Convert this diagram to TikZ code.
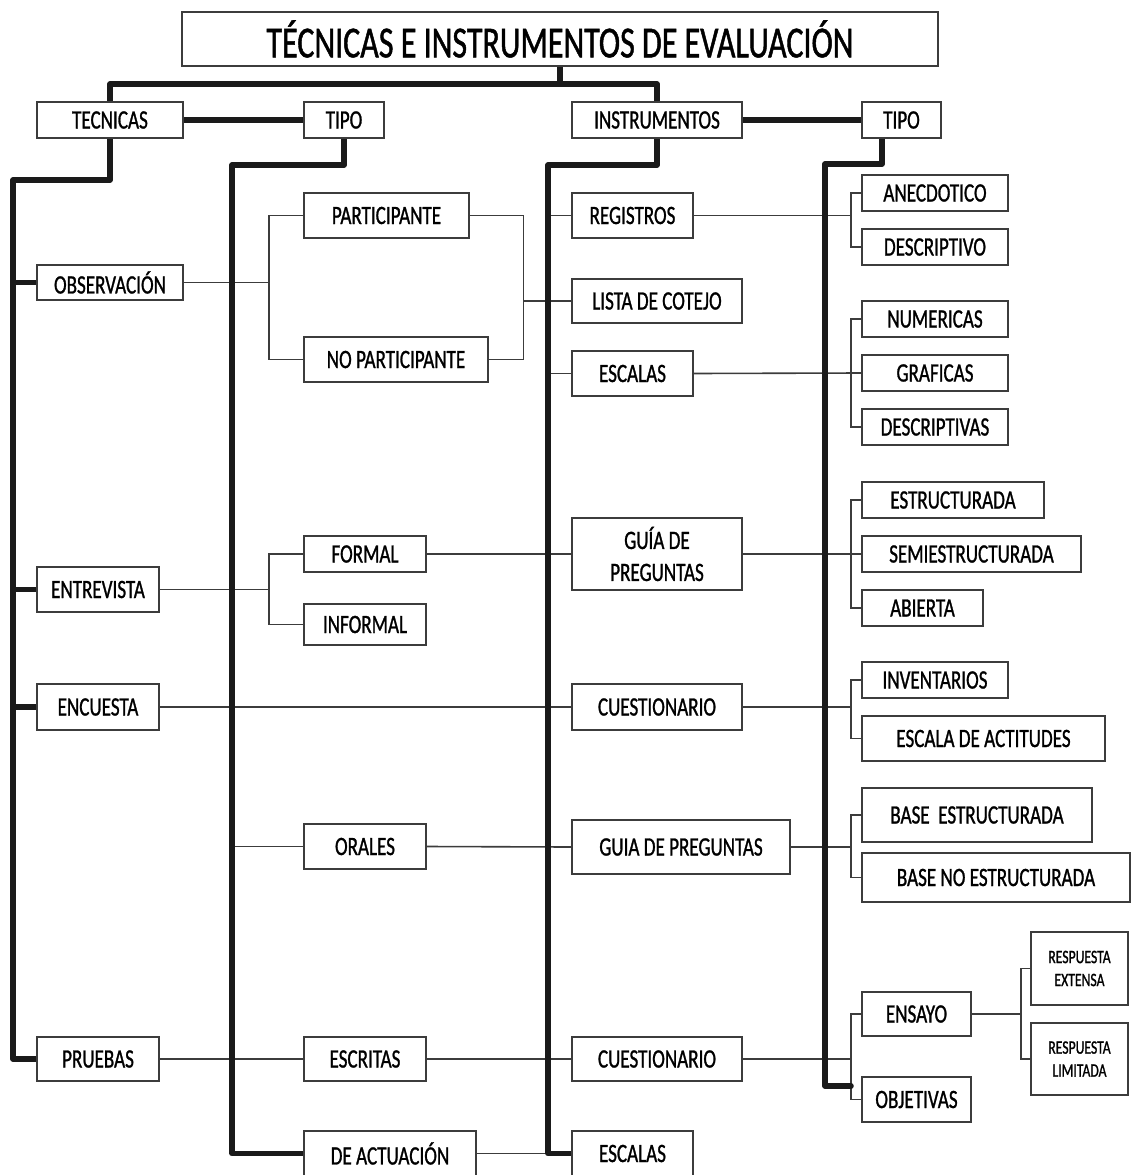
\documentclass[tikz,border=0pt]{standalone}
\usepackage{fontspec}
\setmainfont[FakeStretch=0.72,FakeBold=1.0]{Carlito}
\definecolor{boxline}{HTML}{3C3C3C}
\definecolor{thickline}{HTML}{1A1A1A}
\pgfdeclarelayer{bg}
\pgfsetlayers{bg,main}
\newcommand\mkbox[7][box]{%
  \pgfmathsetmacro\bxw{#5-#3}\pgfmathsetmacro\bxh{#6-#4}%
  \pgfmathsetmacro\bxcx{(#3+#5)/2}\pgfmathsetmacro\bxcy{(#4+#6)/2}%
  \node[#1, minimum width=\bxw pt, minimum height=\bxh pt] (#2) at (\bxcx,\bxcy) {#7};}
\begin{document}
\begin{tikzpicture}[x=1pt,y=-1pt,
  box/.style={draw=boxline, line width=1.4pt, inner sep=0pt, align=center, fill=white,
    font=\fontsize{26.5}{32}\selectfont},
  titlebox/.style={box, font=\fontsize{44.5}{50}\selectfont},
  smallbox/.style={box, font=\fontsize{19}{23}\selectfont},
  thinline/.style={draw=boxline, line width=1.6pt},
  heavy/.style={draw=thickline, line width=5.5pt, line cap=round, line join=round}]
\useasboundingbox (0,0) rectangle (1135,1175);

% title and first row
\mkbox[titlebox]{title}{182}{12}{938}{66}{TÉCNICAS E INSTRUMENTOS DE EVALUACIÓN}
\mkbox{tecnicas}{37}{102}{183}{138}{TECNICAS}
\mkbox{tipoA}{304}{102}{384}{138}{TIPO}
\mkbox{instr}{572}{102}{742}{138}{INSTRUMENTOS}
\mkbox{tipoB}{862}{102}{941}{138}{TIPO}

% techniques
\mkbox{obs}{37}{265}{183}{300}{OBSERVACIÓN}
\mkbox{entrev}{37}{567}{159}{612}{ENTREVISTA}
\mkbox{encu}{37}{684}{159}{730}{ENCUESTA}
\mkbox{prue}{37}{1037}{159}{1081}{PRUEBAS}

% technique types
\mkbox{part}{304}{193}{469}{238}{PARTICIPANTE}
\mkbox{nopart}{304}{337}{488}{382}{NO PARTICIPANTE}
\mkbox{formal}{304}{536}{426}{572}{FORMAL}
\mkbox{informal}{304}{604}{426}{645}{INFORMAL}
\mkbox{orales}{304}{824}{426}{869}{ORALES}
\mkbox{escritas}{304}{1037}{426}{1081}{ESCRITAS}
\mkbox{actua}{304}{1131}{476}{1176}{DE ACTUACIÓN}

% instruments
\mkbox{registros}{572}{193}{693}{238}{REGISTROS}
\mkbox{lista}{572}{279}{742}{323}{LISTA DE COTEJO}
\mkbox{escalas}{572}{351}{693}{396}{ESCALAS}
\mkbox{guia1}{572}{518}{742}{590}{GUÍA DE\\PREGUNTAS}
\mkbox{cuest1}{572}{684}{742}{730}{CUESTIONARIO}
\mkbox{guia2}{572}{820}{790}{874}{GUIA DE PREGUNTAS}
\mkbox{cuest2}{572}{1037}{742}{1081}{CUESTIONARIO}
\mkbox{escalas2}{572}{1131}{693}{1176}{ESCALAS}

% instrument types
\mkbox{anec}{862}{175}{1008}{211}{ANECDOTICO}
\mkbox{descriptivo}{862}{229}{1008}{265}{DESCRIPTIVO}
\mkbox{numer}{862}{301}{1008}{337}{NUMERICAS}
\mkbox{graf}{862}{355}{1008}{391}{GRAFICAS}
\mkbox{descriptivas}{862}{409}{1008}{445}{DESCRIPTIVAS}
\mkbox{estruc}{862}{482}{1044}{518}{ESTRUCTURADA}
\mkbox{semi}{862}{536}{1081}{572}{SEMIESTRUCTURADA}
\mkbox{abierta}{862}{590}{983}{626}{ABIERTA}
\mkbox{invent}{862}{662}{1008}{698}{INVENTARIOS}
\mkbox{actitudes}{862}{716}{1105}{761}{ESCALA DE ACTITUDES}
\mkbox{baseE}{862}{788}{1092}{842}{BASE\ \ ESTRUCTURADA}
\mkbox{baseNE}{862}{853}{1130}{902}{BASE NO ESTRUCTURADA}
\mkbox{ensayo}{862}{992}{971}{1036}{ENSAYO}
\mkbox{objet}{862}{1077}{971}{1122}{OBJETIVAS}
\mkbox[smallbox]{respE}{1031}{932}{1128}{1005}{RESPUESTA\\EXTENSA}
\mkbox[smallbox]{respL}{1031}{1023}{1128}{1095}{RESPUESTA\\LIMITADA}

% bus coordinates
\coordinate (jT) at (560,84);
\coordinate (a1) at (13,180);
\coordinate (b1) at (232,165);
\coordinate (c1) at (548,165);
\coordinate (d1) at (825,164);
\coordinate (d2) at (851,1086);
\coordinate (bo) at ([xshift=85pt]obs.east);
\coordinate (bp) at ([xshift=-48pt]lista.west);
\coordinate (be) at ([xshift=109pt]entrev.east);
\coordinate (e1) at ([xshift=49pt]ensayo.east);

\begin{pgfonlayer}{bg}
\fill[white] (0,0) rectangle (1135,1175);
% thin connectors
\draw[thinline] (obs.east) -- (bo);
\draw[thinline] (part.west) -| (bo) |- (nopart.west);
\draw[thinline] (part.east) -| (bp) |- (nopart.east);
\draw[thinline] (bp) -- (lista.west);
\draw[thinline] (c1 |- registros.west) -- (registros.west);
\draw[thinline] (c1 |- escalas.west) -- (escalas.west);
\draw[thinline] (entrev.east) -- (be);
\draw[thinline] (formal.west) -| (be) |- (informal.west);
\draw[thinline] (formal.east) -- (guia1.west);
\draw[thinline] (encu.east) -- (cuest1.west);
\draw[thinline] (b1 |- orales.west) -- (orales.west);
\draw[thinline] (orales.east) -- (guia2.west);
\draw[thinline] (prue.east) -- (escritas.west);
\draw[thinline] (escritas.east) -- (cuest2.west);
\draw[thinline] (actua.east) -- (c1 |- actua.east);

\draw[thinline] (registros.east) -- (d2 |- registros.east);
\draw[thinline] (anec.west) -| (d2 |- descriptivo.west) -- (descriptivo.west);
\draw[thinline] (escalas.east) -- (graf.west);
\draw[thinline] (numer.west) -| (d2 |- descriptivas.west) -- (descriptivas.west);
\draw[thinline] (guia1.east) -- (semi.west);
\draw[thinline] (estruc.west) -| (d2 |- abierta.west) -- (abierta.west);
\draw[thinline] (cuest1.east) -- (d2 |- cuest1.east);
\draw[thinline] (invent.west) -| (d2 |- actitudes.west) -- (actitudes.west);
\draw[thinline] (guia2.east) -- (d2 |- guia2.east);
\draw[thinline] (baseE.west) -| (d2 |- baseNE.west) -- (baseNE.west);
\draw[thinline] (cuest2.east) -- (d2 |- cuest2.east);
\draw[thinline] (ensayo.west) -| (d2 |- objet.west) -- (objet.west);
\draw[thinline] (ensayo.east) -- (e1);
\draw[thinline] (respE.west) -| (e1 |- respL.west) -- (respL.west);

% heavy connectors
\draw[heavy] (title.south) -- (jT);
\draw[heavy] (tecnicas.north) |- (jT) -| (instr.north);
\draw[heavy] (tecnicas.east) -- (tipoA.west);
\draw[heavy] (instr.east) -- (tipoB.west);
\draw[heavy] (tecnicas.south) |- (a1) |- (prue.west);
\draw[heavy] (a1 |- obs.west) -- (obs.west);
\draw[heavy] (a1 |- entrev.west) -- (entrev.west);
\draw[heavy] (a1 |- encu.west) -- (encu.west);
\draw[heavy] (tipoA.south) |- (b1) |- (actua.west);
\draw[heavy] (instr.south) |- (c1) |- (escalas2.west);
\draw[heavy] ([xshift=-19.5pt]tipoB.south) |- (d1) |- (d2);
\end{pgfonlayer}
\end{tikzpicture}
\end{document}
